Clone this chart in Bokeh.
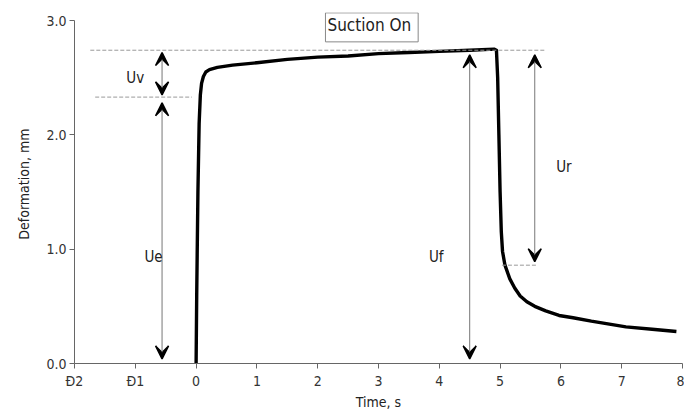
from bokeh.plotting import figure
from bokeh.models import Arrow, VeeHead, Label, ColumnDataSource, FixedTicker, Title
from bokeh.embed import file_html
from bokeh.resources import INLINE

# Deformation curve
time_s = [0.0, 0.01, 0.03, 0.05, 0.07, 0.09, 0.12, 0.16, 0.22, 0.35, 0.6, 1.0, 1.5, 2.0,
          2.5, 3.0, 3.5, 4.0, 4.5, 4.9, 4.94, 4.96, 4.98, 5.0, 5.02, 5.04, 5.08, 5.16,
          5.24, 5.33, 5.44, 5.57, 5.75, 5.97, 6.2, 6.5, 7.07, 7.5, 7.9]
deform_mm = [0.0, 0.6, 1.5, 2.1, 2.35, 2.45, 2.51, 2.55, 2.57, 2.59, 2.61, 2.63, 2.66, 2.68,
             2.69, 2.71, 2.72, 2.73, 2.74, 2.75, 2.74, 2.5, 2.0, 1.5, 1.15, 0.98, 0.86, 0.74,
             0.66, 0.59, 0.54, 0.50, 0.46, 0.42, 0.40, 0.37, 0.32, 0.30, 0.28]

x_ticks = [-2, -1, 0, 1, 2, 3, 4, 5, 6, 7, 8]
x_tick_labels = ["Ð2", "Ð1", "0", "1", "2", "3", "4", "5", "6", "7", "8"]
y_ticks = [0.0, 1.0, 2.0, 3.0]
y_tick_labels = ["0.0", "1.0", "2.0", "3.0"]

# Reference levels (dashed) : (y, x_start, x_end)
levels = [(2.74, -1.74, 5.73), (2.33, -1.66, -0.07), (0.86, 5.03, 5.6)]
# Double arrows : (x, y_low, y_high, label, label_x, label_y)
arrows = [(-0.56, 2.35, 2.72, "Uv", -1.0, 2.5),
          (-0.56, 0.04, 2.28, "Ue", -0.7, 0.93),
          (4.5, 0.04, 2.7, "Uf", 3.95, 0.93),
          (5.57, 0.89, 2.7, "Ur", 6.05, 1.72)]

FONT = "DejaVu Sans Condensed, Roboto, sans-serif"

p = figure(width=684, height=412, x_range=(-2, 8), y_range=(0, 3.07),
           output_backend="svg", toolbar_location=None,
           min_border_left=74, min_border_right=2, min_border_top=12, min_border_bottom=47)
p.outline_line_color = None
p.grid.visible = False
p.background_fill_color = "white"

p.xaxis.ticker = FixedTicker(ticks=x_ticks)
p.xaxis.major_label_overrides = {t: l for t, l in zip(x_ticks, x_tick_labels)}
p.yaxis.ticker = FixedTicker(ticks=y_ticks)
p.yaxis.major_label_overrides = {t: l for t, l in zip(y_ticks, y_tick_labels)}
p.yaxis.bounds = (0, 3.0)
for ax in (p.xaxis, p.yaxis):
    ax.axis_line_color = "#666666"
    ax.major_tick_line_color = "#666666"
    ax.minor_tick_line_color = None
    ax.major_tick_in = 0
    ax.major_tick_out = 5
    ax.major_label_text_font = FONT
    ax.major_label_text_font_size = "14px"
    ax.major_label_text_color = "#333333"
p.xaxis.major_label_standoff = 4
p.yaxis.major_label_standoff = 3

p.xaxis.axis_label = "Time, s"
p.xaxis.axis_label_text_font = FONT
p.xaxis.axis_label_text_font_size = "14px"
p.xaxis.axis_label_text_font_style = "normal"
p.xaxis.axis_label_text_color = "#222222"
p.xaxis.axis_label_standoff = 2

p.add_layout(Title(text="Deformation, mm", align="right", offset=116,
                   text_font=FONT, text_font_size="14px", text_font_style="normal",
                   text_color="#222222", standoff=24), "left")

src = ColumnDataSource(dict(t=time_s, d=deform_mm))
p.line("t", "d", source=src, line_color="black", line_width=3.4, line_join="round")

for y, x0, x1 in levels:
    p.segment(x0=[x0], y0=[y], x1=[x1], y1=[y], line_color="#999999",
              line_width=1, line_dash="4 2")

for x, y0, y1, lab, lx, ly in arrows:
    p.add_layout(Arrow(x_start=x, y_start=y0, x_end=x, y_end=y1,
                       line_color="#777777", line_width=1,
                       start=VeeHead(size=13, fill_color="black", line_color="black",
                                     line_width=1.5),
                       end=VeeHead(size=13, fill_color="black", line_color="black",
                                   line_width=1.5)))
    p.add_layout(Label(x=lx, y=ly, text=lab, text_font=FONT, text_font_size="15px",
                       text_color="#222222", text_align="center", text_baseline="middle"))

p.add_layout(Label(x=2.89, y=2.94, text="Suction On", text_font=FONT, text_font_size="17px",
                   text_color="#222222", text_align="center", text_baseline="middle",
                   border_line_color="#888888", border_line_width=1,
                   background_fill_color="white", padding=(2, 7, 2, 7)))

open("out.html", "w").write(file_html(p, INLINE))
